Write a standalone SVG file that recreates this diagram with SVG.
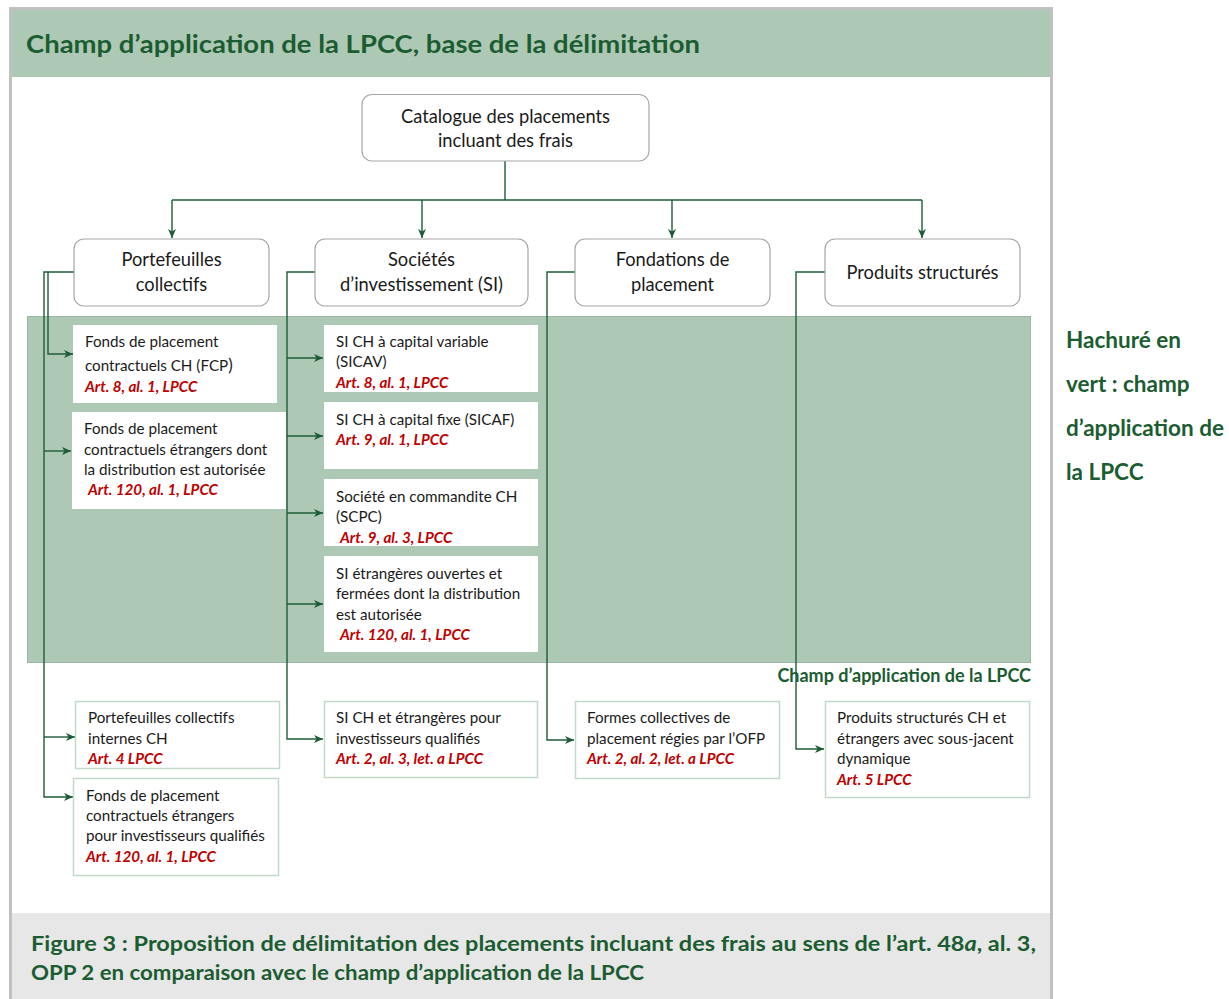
<svg xmlns="http://www.w3.org/2000/svg" width="1229" height="999" viewBox="0 0 1229 999">
<style>
.frame{fill:#ffffff;stroke:#c0c0c0;stroke-width:3}
.hdr{fill:#adc9b6}
.band{fill:#adc9b6;stroke:#9cb5a4;stroke-width:1}
.cap{fill:#e7e7e7}
.title{font-family:Lato,"Open Sans","Liberation Sans",sans-serif;font-weight:bold;fill:#1b5c31}
.n1{fill:#ffffff;stroke:#a6a6a6;stroke-width:1.2}
.n3{fill:#ffffff}
.n4{fill:#ffffff;stroke:#c3dacb;stroke-width:1.5}
.t{font-family:Lato,"Open Sans","Liberation Sans",sans-serif;fill:#1a1a1a}
.big{font-size:18.3px}
.sm{font-size:15.2px}
.art{font-family:Lato,"Open Sans","Liberation Sans",sans-serif;font-size:15.2px;font-weight:bold;font-style:italic;fill:#c00000}
.con{fill:none;stroke:#1e5c38;stroke-width:1.4}
.arr{marker-end:url(#ah)}
</style>
<defs>
<marker id="ah" markerUnits="userSpaceOnUse" markerWidth="10" markerHeight="9" refX="9" refY="4.5" orient="auto">
<path d="M0,0.5 L9,4.5 L0,8.5 L2.5,4.5 z" fill="#1e5c38"/>
</marker>
</defs>

<!-- frame -->
<rect x="10.5" y="8.5" width="1041" height="1000" class="frame"/>
<rect x="12" y="10" width="1038" height="67" class="hdr"/>
<text x="26" y="53" class="title" font-size="24.5" textLength="674" lengthAdjust="spacingAndGlyphs">Champ d’application de la LPCC, base de la délimitation</text>

<!-- LPCC band -->
<rect x="27.5" y="316.5" width="1003" height="346" class="band"/>
<text x="1031" y="682" class="title" font-size="18" text-anchor="end">Champ d’application de la LPCC</text>

<!-- legend -->
<g id="legend" class="title" font-size="22.5">
<text x="1066" y="348">Hachuré en</text>
<text x="1066" y="392">vert : champ</text>
<text x="1066" y="436">d’application de</text>
<text x="1066" y="480">la LPCC</text>
</g>

<!-- caption -->
<rect x="12" y="913" width="1038" height="86" class="cap"/>
<g id="caption" class="title" font-size="20.5">
<text x="31" y="951" textLength="1005" lengthAdjust="spacingAndGlyphs">Figure 3 : Proposition de délimitation des placements incluant des frais au sens de l’art. 48<tspan font-style="italic">a</tspan>, al. 3,</text>
<text x="31" y="980" textLength="613" lengthAdjust="spacingAndGlyphs">OPP 2 en comparaison avec le champ d’application de la LPCC</text>
</g>

<!-- connectors -->
<g id="connectors" class="con">
<path d="M505,161 V200"/>
<path d="M172,200 H922"/>
<path class="arr" d="M172,200 V238"/>
<path class="arr" d="M422,200 V238"/>
<path class="arr" d="M672,200 V238"/>
<path class="arr" d="M922,200 V238"/>
<path class="arr" d="M74,272 H44 V797 H73"/>
<path class="arr" d="M48,272 V354 H73"/>
<path class="arr" d="M44,451 H71"/>
<path class="arr" d="M44,737 H75"/>
<path class="arr" d="M315,272 H287 V739 H323"/>
<path class="arr" d="M287,358 H323"/>
<path class="arr" d="M287,436 H323"/>
<path class="arr" d="M287,513 H323"/>
<path class="arr" d="M287,604 H323"/>
<path class="arr" d="M575,272 H547 V740 H574"/>
<path class="arr" d="M825,272 H796 V749 H824"/>
</g>

<!-- top node -->
<g id="catalogue">
<rect x="362" y="94.5" width="287" height="66.5" rx="10" class="n1"/>
<text x="505.5" y="123" class="t big" text-anchor="middle">Catalogue des placements</text>
<text x="505.5" y="147" class="t big" text-anchor="middle">incluant des frais</text>
</g>

<!-- level 2 -->
<g id="portefeuilles">
<rect x="74" y="239" width="195" height="67" rx="10" class="n1"/>
<text x="171.5" y="266" class="t big" text-anchor="middle">Portefeuilles</text>
<text x="171.5" y="291" class="t big" text-anchor="middle">collectifs</text>
</g>
<g id="societes">
<rect x="315" y="239" width="213" height="67" rx="10" class="n1"/>
<text x="421.5" y="266" class="t big" text-anchor="middle">Sociétés</text>
<text x="421.5" y="291" class="t big" text-anchor="middle">d’investissement (SI)</text>
</g>
<g id="fondations">
<rect x="575" y="239" width="195" height="67" rx="10" class="n1"/>
<text x="672.5" y="266" class="t big" text-anchor="middle">Fondations de</text>
<text x="672.5" y="291" class="t big" text-anchor="middle">placement</text>
</g>
<g id="produits">
<rect x="825" y="239" width="195" height="67" rx="10" class="n1"/>
<text x="922.5" y="279" class="t big" text-anchor="middle">Produits structurés</text>
</g>

<!-- level 3 inside band -->
<g id="fcp">
<rect x="73" y="325" width="204" height="78" class="n3"/>
<text x="85" y="347" class="t sm">Fonds de placement</text>
<text x="85" y="371" class="t sm">contractuels CH (FCP<tspan font-size="17">)</tspan></text>
<text x="85" y="392" class="art">Art. 8, al. 1, LPCC</text>
</g>
<g id="fcp-etr">
<rect x="72" y="412" width="214" height="97" class="n3"/>
<text x="84" y="434" class="t sm">Fonds de placement</text>
<text x="84" y="455" class="t sm">contractuels étrangers dont</text>
<text x="84" y="475" class="t sm">la distribution est autorisée</text>
<text x="88" y="495" class="art">Art. 120, al. 1, LPCC</text>
</g>
<g id="sicav">
<rect x="324" y="325" width="214" height="67" class="n3"/>
<text x="336" y="347" class="t sm">SI CH à capital variable</text>
<text x="336" y="367" class="t sm">(SICAV)</text>
<text x="336" y="388" class="art">Art. 8, al. 1, LPCC</text>
</g>
<g id="sicaf">
<rect x="324" y="402" width="214" height="67" class="n3"/>
<text x="336" y="425" class="t sm">SI CH à capital fixe (SICAF)</text>
<text x="336" y="445" class="art">Art. 9, al. 1, LPCC</text>
</g>
<g id="scpc">
<rect x="324" y="479" width="214" height="67" class="n3"/>
<text x="336" y="502" class="t sm">Société en commandite CH</text>
<text x="336" y="522" class="t sm">(SCPC)</text>
<text x="340" y="543" class="art">Art. 9, al. 3, LPCC</text>
</g>
<g id="si-etr">
<rect x="324" y="556" width="214" height="96" class="n3"/>
<text x="336" y="579" class="t sm">SI étrangères ouvertes et</text>
<text x="336" y="599" class="t sm">fermées dont la distribution</text>
<text x="336" y="620" class="t sm">est autorisée</text>
<text x="340" y="640" class="art">Art. 120, al. 1, LPCC</text>
</g>

<!-- level 3 outside band -->
<g id="pc-internes">
<rect x="75.5" y="701.5" width="204" height="67" class="n4"/>
<text x="88" y="723" class="t sm">Portefeuilles collectifs</text>
<text x="88" y="744" class="t sm">internes CH</text>
<text x="88" y="764" class="art">Art. 4 LPCC</text>
</g>
<g id="fcp-qualifies">
<rect x="73.5" y="778.5" width="205" height="97" class="n4"/>
<text x="86" y="801" class="t sm">Fonds de placement</text>
<text x="86" y="821" class="t sm">contractuels étrangers</text>
<text x="86" y="841" class="t sm">pour investisseurs qualifiés</text>
<text x="86" y="862" class="art">Art. 120, al. 1, LPCC</text>
</g>
<g id="si-qualifies">
<rect x="324.5" y="701.5" width="213" height="76" class="n4"/>
<text x="336" y="723" class="t sm">SI CH et étrangères pour</text>
<text x="336" y="744" class="t sm">investisseurs qualifiés</text>
<text x="336" y="764" class="art">Art. 2, al. 3, let. a LPCC</text>
</g>
<g id="ofp">
<rect x="575.5" y="701.5" width="204" height="77" class="n4"/>
<text x="587" y="723" class="t sm">Formes collectives de</text>
<text x="587" y="744" class="t sm">placement régies par l’OFP</text>
<text x="587" y="764" class="art">Art. 2, al. 2, let. a LPCC</text>
</g>
<g id="ps-dyn">
<rect x="825.5" y="701.5" width="204" height="96" class="n4"/>
<text x="837" y="723" class="t sm">Produits structurés CH et</text>
<text x="837" y="744" class="t sm">étrangers avec sous-jacent</text>
<text x="837" y="764" class="t sm">dynamique</text>
<text x="837" y="785" class="art">Art. 5 LPCC</text>
</g>
</svg>
